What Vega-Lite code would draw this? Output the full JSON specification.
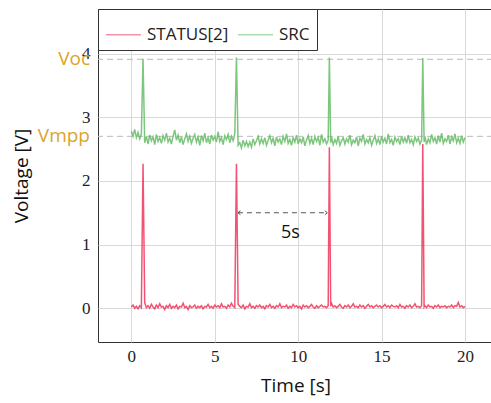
{
  "$schema": "https://vega.github.io/schema/vega-lite/v6.json",
  "width": 395,
  "height": 333,
  "autosize": "none",
  "padding": {"left": 98, "top": 9, "right": 0, "bottom": 61},
  "config": {
    "view": {"stroke": "#333333", "strokeWidth": 1},
    "font": "Open Sans",
    "axis": {
      "grid": true, "gridColor": "#d9d9d9", "ticks": false, "domain": false,
      "labelFont": "Liberation Serif", "labelFontSize": 17, "labelColor": "#222222",
      "titleFont": "Open Sans", "titleFontSize": 19, "titleFontWeight": "normal", "titleColor": "#111111"
    },
    "legend": {"labelFont": "Open Sans", "labelFontSize": 17, "labelColor": "#222222"}
  },
  "datasets": {
    "sig": [
      {"t":0.0,"a":0.02,"b":2.78},{"t":0.1,"a":0.05,"b":2.70},{"t":0.2,"a":0.00,"b":2.81},{"t":0.3,"a":0.03,"b":2.68},{"t":0.4,"a":-0.01,"b":2.76},
      {"t":0.5,"a":0.04,"b":2.66},{"t":0.6,"a":0.01,"b":2.74},{"t":0.7,"a":2.27,"b":3.92},{"t":0.8,"a":0.09,"b":2.60},{"t":0.9,"a":0.01,"b":2.70},
      {"t":1.0,"a":0.04,"b":2.58},{"t":1.1,"a":0.00,"b":2.72},{"t":1.2,"a":0.06,"b":2.63},{"t":1.3,"a":0.02,"b":2.69},{"t":1.4,"a":-0.01,"b":2.57},
      {"t":1.5,"a":0.05,"b":2.73},{"t":1.6,"a":0.01,"b":2.62},{"t":1.7,"a":0.07,"b":2.68},{"t":1.8,"a":0.02,"b":2.59},{"t":1.9,"a":0.03,"b":2.71},
      {"t":2.0,"a":-0.02,"b":2.64},{"t":2.1,"a":0.04,"b":2.75},{"t":2.2,"a":0.01,"b":2.61},{"t":2.3,"a":0.06,"b":2.67},{"t":2.4,"a":0.00,"b":2.58},
      {"t":2.5,"a":0.03,"b":2.70},{"t":2.6,"a":0.01,"b":2.80},{"t":2.7,"a":0.05,"b":2.64},{"t":2.8,"a":-0.01,"b":2.72},{"t":2.9,"a":0.03,"b":2.60},
      {"t":3.0,"a":0.02,"b":2.69},{"t":3.1,"a":0.08,"b":2.57},{"t":3.2,"a":0.01,"b":2.66},{"t":3.3,"a":0.03,"b":2.74},{"t":3.4,"a":-0.02,"b":2.62},
      {"t":3.5,"a":0.04,"b":2.70},{"t":3.6,"a":0.01,"b":2.59},{"t":3.7,"a":0.02,"b":2.67},{"t":3.8,"a":0.05,"b":2.73},{"t":3.9,"a":0.00,"b":2.61},
      {"t":4.0,"a":0.03,"b":2.69},{"t":4.1,"a":0.01,"b":2.56},{"t":4.2,"a":0.04,"b":2.71},{"t":4.3,"a":-0.01,"b":2.63},{"t":4.4,"a":0.03,"b":2.75},
      {"t":4.5,"a":0.02,"b":2.60},{"t":4.6,"a":0.06,"b":2.68},{"t":4.7,"a":0.01,"b":2.58},{"t":4.8,"a":0.03,"b":2.72},{"t":4.9,"a":0.00,"b":2.64},
      {"t":5.0,"a":0.05,"b":2.70},{"t":5.1,"a":0.02,"b":2.61},{"t":5.2,"a":0.04,"b":2.77},{"t":5.3,"a":0.01,"b":2.62},{"t":5.4,"a":0.07,"b":2.68},
      {"t":5.5,"a":0.02,"b":2.57},{"t":5.6,"a":0.03,"b":2.71},{"t":5.7,"a":0.00,"b":2.65},{"t":5.8,"a":0.05,"b":2.73},{"t":5.9,"a":0.02,"b":2.60},
      {"t":6.0,"a":0.08,"b":2.70},{"t":6.1,"a":0.03,"b":2.63},{"t":6.2,"a":0.01,"b":2.74},{"t":6.3,"a":2.27,"b":3.94},{"t":6.4,"a":0.06,"b":2.56},
      {"t":6.5,"a":0.03,"b":2.60},{"t":6.6,"a":0.01,"b":2.52},{"t":6.7,"a":0.05,"b":2.64},{"t":6.8,"a":-0.01,"b":2.55},{"t":6.9,"a":0.03,"b":2.62},
      {"t":7.0,"a":0.02,"b":2.54},{"t":7.1,"a":0.07,"b":2.61},{"t":7.2,"a":0.01,"b":2.53},{"t":7.3,"a":0.03,"b":2.66},{"t":7.4,"a":0.00,"b":2.57},
      {"t":7.5,"a":0.04,"b":2.63},{"t":7.6,"a":0.02,"b":2.70},{"t":7.7,"a":0.05,"b":2.58},{"t":7.8,"a":0.01,"b":2.66},{"t":7.9,"a":0.03,"b":2.59},
      {"t":8.0,"a":-0.01,"b":2.68},{"t":8.1,"a":0.04,"b":2.56},{"t":8.2,"a":0.02,"b":2.64},{"t":8.3,"a":0.06,"b":2.71},{"t":8.4,"a":0.01,"b":2.60},
      {"t":8.5,"a":0.03,"b":2.67},{"t":8.6,"a":0.00,"b":2.55},{"t":8.7,"a":0.04,"b":2.69},{"t":8.8,"a":0.02,"b":2.61},{"t":8.9,"a":0.07,"b":2.66},
      {"t":9.0,"a":0.01,"b":2.57},{"t":9.1,"a":0.03,"b":2.70},{"t":9.2,"a":0.02,"b":2.62},{"t":9.3,"a":0.05,"b":2.74},{"t":9.4,"a":0.00,"b":2.59},
      {"t":9.5,"a":0.03,"b":2.65},{"t":9.6,"a":0.01,"b":2.56},{"t":9.7,"a":0.06,"b":2.68},{"t":9.8,"a":0.02,"b":2.61},{"t":9.9,"a":0.04,"b":2.72},
      {"t":10.0,"a":0.01,"b":2.58},{"t":10.1,"a":0.03,"b":2.66},{"t":10.2,"a":-0.01,"b":2.60},{"t":10.3,"a":0.05,"b":2.69},{"t":10.4,"a":0.02,"b":2.55},
      {"t":10.5,"a":0.04,"b":2.64},{"t":10.6,"a":0.01,"b":2.71},{"t":10.7,"a":0.03,"b":2.59},{"t":10.8,"a":0.06,"b":2.67},{"t":10.9,"a":0.02,"b":2.57},
      {"t":11.0,"a":0.00,"b":2.70},{"t":11.1,"a":0.04,"b":2.62},{"t":11.2,"a":0.01,"b":2.68},{"t":11.3,"a":0.03,"b":2.56},{"t":11.4,"a":0.05,"b":2.73},
      {"t":11.5,"a":0.02,"b":2.61},{"t":11.6,"a":0.03,"b":2.66},{"t":11.7,"a":0.01,"b":2.58},{"t":11.8,"a":0.04,"b":2.64},{"t":11.87,"a":2.53,"b":3.94},
      {"t":11.95,"a":0.03,"b":2.60},{"t":12.0,"a":0.08,"b":2.69},{"t":12.1,"a":0.02,"b":2.57},{"t":12.2,"a":0.04,"b":2.65},{"t":12.3,"a":0.01,"b":2.59},
      {"t":12.4,"a":0.03,"b":2.70},{"t":12.5,"a":0.06,"b":2.56},{"t":12.6,"a":0.02,"b":2.63},{"t":12.7,"a":0.00,"b":2.68},{"t":12.8,"a":0.04,"b":2.58},
      {"t":12.9,"a":0.02,"b":2.66},{"t":13.0,"a":0.05,"b":2.61},{"t":13.1,"a":0.01,"b":2.72},{"t":13.2,"a":0.03,"b":2.57},{"t":13.3,"a":0.07,"b":2.64},
      {"t":13.4,"a":0.02,"b":2.60},{"t":13.5,"a":0.03,"b":2.69},{"t":13.6,"a":0.01,"b":2.55},{"t":13.7,"a":0.05,"b":2.67},{"t":13.8,"a":0.02,"b":2.62},
      {"t":13.9,"a":0.04,"b":2.73},{"t":14.0,"a":0.00,"b":2.58},{"t":14.1,"a":0.03,"b":2.65},{"t":14.2,"a":0.06,"b":2.60},{"t":14.3,"a":0.02,"b":2.68},
      {"t":14.4,"a":0.04,"b":2.56},{"t":14.5,"a":0.01,"b":2.64},{"t":14.6,"a":0.03,"b":2.71},{"t":14.7,"a":0.05,"b":2.59},{"t":14.8,"a":0.02,"b":2.66},
      {"t":14.9,"a":0.04,"b":2.57},{"t":15.0,"a":0.01,"b":2.70},{"t":15.1,"a":0.03,"b":2.61},{"t":15.2,"a":0.06,"b":2.67},{"t":15.3,"a":0.02,"b":2.58},
      {"t":15.4,"a":0.04,"b":2.74},{"t":15.5,"a":0.01,"b":2.60},{"t":15.6,"a":0.05,"b":2.65},{"t":15.7,"a":0.03,"b":2.56},{"t":15.8,"a":0.02,"b":2.69},
      {"t":15.9,"a":0.04,"b":2.62},{"t":16.0,"a":0.01,"b":2.66},{"t":16.1,"a":0.06,"b":2.57},{"t":16.2,"a":0.02,"b":2.70},{"t":16.3,"a":0.03,"b":2.61},
      {"t":16.4,"a":0.00,"b":2.68},{"t":16.5,"a":0.04,"b":2.59},{"t":16.6,"a":0.02,"b":2.72},{"t":16.7,"a":0.05,"b":2.60},{"t":16.8,"a":0.01,"b":2.65},
      {"t":16.9,"a":0.03,"b":2.57},{"t":17.0,"a":0.07,"b":2.69},{"t":17.1,"a":0.02,"b":2.62},{"t":17.2,"a":0.03,"b":2.67},{"t":17.3,"a":0.01,"b":2.58},
      {"t":17.4,"a":0.04,"b":2.64},{"t":17.47,"a":2.58,"b":3.93},{"t":17.55,"a":0.02,"b":2.61},{"t":17.6,"a":0.04,"b":2.70},{"t":17.7,"a":0.01,"b":2.57},
      {"t":17.8,"a":0.05,"b":2.66},{"t":17.9,"a":0.02,"b":2.60},{"t":18.0,"a":0.03,"b":2.73},{"t":18.1,"a":0.00,"b":2.62},{"t":18.2,"a":0.04,"b":2.68},
      {"t":18.3,"a":0.02,"b":2.58},{"t":18.4,"a":0.05,"b":2.71},{"t":18.5,"a":0.01,"b":2.61},{"t":18.6,"a":0.03,"b":2.75},{"t":18.7,"a":0.02,"b":2.59},
      {"t":18.8,"a":0.04,"b":2.66},{"t":18.9,"a":0.01,"b":2.62},{"t":19.0,"a":0.03,"b":2.72},{"t":19.1,"a":0.02,"b":2.58},{"t":19.2,"a":0.05,"b":2.69},
      {"t":19.3,"a":0.01,"b":2.63},{"t":19.4,"a":0.04,"b":2.74},{"t":19.5,"a":0.03,"b":2.60},{"t":19.6,"a":0.09,"b":2.67},{"t":19.7,"a":0.02,"b":2.59},
      {"t":19.8,"a":0.04,"b":2.71},{"t":19.9,"a":0.01,"b":2.61},{"t":20.0,"a":0.03,"b":2.68}
    ],
    "refs": [{"v": 3.91, "name": "Voc"}, {"v": 2.70, "name": "Vmpp"}],
    "arrow": [{"t": 6.39, "t2": 11.75, "v": 1.5}],
    "note": [{"t": 9.53, "v": 1.18, "txt": "5s"}]
  },
  "layer": [
    {
      "data": {"name": "refs"},
      "mark": {"type": "rule", "color": "#bbbbbb", "strokeDash": [6, 4], "strokeWidth": 1},
      "encoding": {
        "y": {"field": "v", "type": "quantitative", "scale": {"domain": [-0.53, 4.7], "nice": false, "zero": false},
              "axis": {"values": [0, 1, 2, 3, 4], "format": "d", "labelPadding": 8, "title": "Voltage [V]", "titlePadding": 50}}
      }
    },
    {
      "data": {"name": "sig"},
      "transform": [{"fold": ["a", "b"], "as": ["s", "v"]}],
      "mark": {"type": "line", "strokeWidth": 1.5, "opacity": 0.8, "strokeJoin": "miter"},
      "encoding": {
        "x": {"field": "t", "type": "quantitative", "scale": {"domain": [-2, 21.68], "nice": false, "zero": false},
              "axis": {"values": [0, 5, 10, 15, 20], "format": "d", "labelPadding": 6, "title": "Time [s]", "titlePadding": 12}},
        "y": {"field": "v", "type": "quantitative"},
        "color": {"field": "s", "type": "nominal",
                  "scale": {"domain": ["a", "b"], "range": ["#f0284f", "#5cb85c"]},
                  "legend": {"orient": "none", "legendX": 0, "legendY": 0, "direction": "horizontal", "title": null,
                             "labelExpr": "datum.label == 'a' ? 'STATUS[2]' : 'SRC'",
                             "strokeColor": "#333333", "fillColor": "white", "padding": 7,
                             "symbolType": "stroke", "symbolSize": 1225, "symbolStrokeWidth": 1.5, "symbolOpacity": 0.5,
                             "labelOffset": 5, "columnPadding": 6}}
      }
    },
    {
      "data": {"name": "refs"},
      "mark": {"type": "text", "align": "right", "baseline": "middle", "dx": -8, "fontSize": 19, "font": "Open Sans", "color": "#d9a52b"},
      "encoding": {
        "x": {"datum": -2, "type": "quantitative"},
        "y": {"field": "v", "type": "quantitative"},
        "text": {"field": "name"}
      }
    },
    {
      "data": {"name": "arrow"},
      "mark": {"type": "rule", "color": "#555555", "strokeDash": [5, 4], "strokeWidth": 1},
      "encoding": {
        "x": {"field": "t", "type": "quantitative"},
        "x2": {"field": "t2"},
        "y": {"field": "v", "type": "quantitative"}
      }
    },
    {
      "data": {"name": "arrow"},
      "mark": {"type": "point", "shape": "M1,-0.8L0,0L1,0.8", "filled": false, "size": 25, "color": "#555555", "strokeWidth": 1, "opacity": 1},
      "encoding": {
        "x": {"field": "t", "type": "quantitative"},
        "y": {"field": "v", "type": "quantitative"}
      }
    },
    {
      "data": {"name": "arrow"},
      "mark": {"type": "point", "shape": "M-1,-0.8L0,0L-1,0.8", "filled": false, "size": 25, "color": "#555555", "strokeWidth": 1, "opacity": 1},
      "encoding": {
        "x": {"field": "t2", "type": "quantitative"},
        "y": {"field": "v", "type": "quantitative"}
      }
    },
    {
      "data": {"name": "note"},
      "mark": {"type": "text", "fontSize": 18, "font": "Open Sans", "color": "#111111", "baseline": "middle"},
      "encoding": {
        "x": {"field": "t", "type": "quantitative"},
        "y": {"field": "v", "type": "quantitative"},
        "text": {"field": "txt"}
      }
    }
  ]
}
